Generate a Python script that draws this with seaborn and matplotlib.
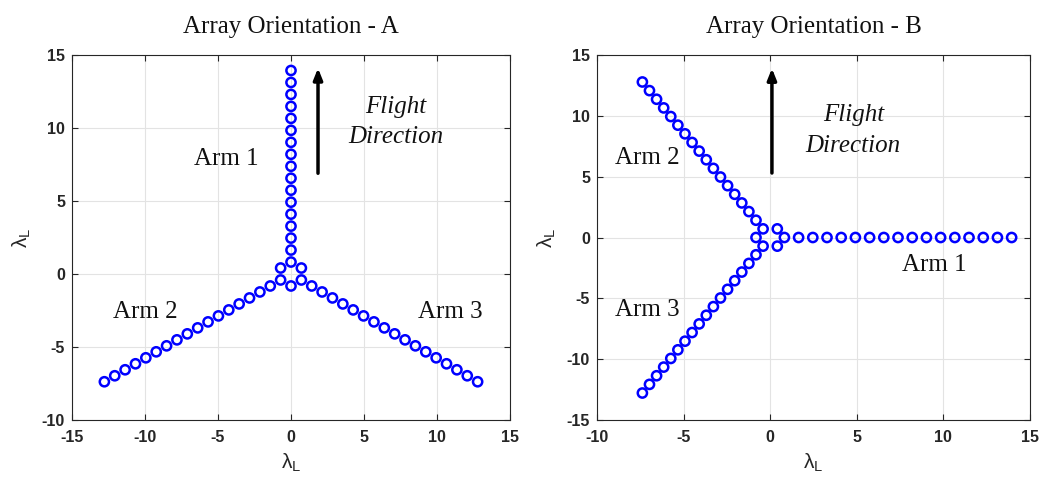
import numpy as np
import pandas as pd
import matplotlib
matplotlib.use("Agg")
import matplotlib.pyplot as plt
import seaborn as sns

# ---- data (polar description of the Y-array) ----
arm1_r = [0.82, 1.64, 2.46, 3.28, 4.10, 4.92, 5.74, 6.56, 7.38, 8.20,
          9.02, 9.84, 10.66, 11.48, 12.30, 13.12, 13.94]
arm23_r = [0.82, 1.64, 2.46, 3.28, 4.10, 4.92, 5.74, 6.56, 7.38, 8.20,
           9.02, 9.84, 10.66, 11.48, 12.30, 13.12, 13.94, 14.76]
hub_r = [0.82, 0.82, 0.82]
# arm directions (degrees) per orientation
angles_A = {"Arm 1": 90, "Arm 2": 210, "Arm 3": 330}
hub_A = [270, 30, 150]
angles_B = {"Arm 1": 0, "Arm 2": 120, "Arm 3": 240}
hub_B = [180, 300, 60]

titles = ["Array Orientation - A", "Array Orientation - B"]
xlims = [(-15, 15), (-10, 15)]
ylims = [(-10, 15), (-15, 15)]
xticks = [[-15, -10, -5, 0, 5, 10, 15], [-10, -5, 0, 5, 10, 15]]
yticks = [[-10, -5, 0, 5, 10, 15], [-15, -10, -5, 0, 5, 10, 15]]

labels_A = [("Arm 1", -4.4, 7.9), ("Arm 2", -10.0, -2.6), ("Arm 3", 10.9, -2.6)]
labels_B = [("Arm 2", -7.1, 6.5), ("Arm 3", -7.1, -6.0), ("Arm 1", 9.5, -2.3)]
flight_A = (7.2, 10.4)
flight_B = (4.8, 8.8)
arrow_A = ((1.85, 6.9), (1.85, 14.1))
arrow_B = ((0.1, 5.3), (0.1, 13.9))


def build(angles, hub):
    rows = []
    for arm, ang in angles.items():
        rr = arm1_r if arm == "Arm 1" else arm23_r
        for r in rr:
            rows.append((r * np.cos(np.radians(ang)), r * np.sin(np.radians(ang)), arm))
    for r, ang in zip(hub_r, hub):
        rows.append((r * np.cos(np.radians(ang)), r * np.sin(np.radians(ang)), "hub"))
    return pd.DataFrame(rows, columns=["x", "y", "arm"])


dfs = [build(angles_A, hub_A), build(angles_B, hub_B)]
labels = [labels_A, labels_B]
flights = [flight_A, flight_B]
arrows = [arrow_A, arrow_B]

sns.set_theme(style="whitegrid")
plt.rcParams["font.family"] = ["Liberation Sans", "DejaVu Sans"]
plt.rcParams["axes.unicode_minus"] = False

fig = plt.figure(figsize=(10.46, 4.79), dpi=100)
positions = [[72 / 1046, 59 / 479, 438 / 1046, 365 / 479],
             [597 / 1046, 59 / 479, 433 / 1046, 365 / 479]]

lam = r"$\mathregular{λ_L}$"

for i in range(2):
    ax = fig.add_axes(positions[i])
    ax.set_facecolor("white")
    sns.scatterplot(data=dfs[i], x="x", y="y", ax=ax, marker="o", s=44,
                    facecolors="none", edgecolor="#0000ff", linewidth=1.8,
                    legend=False, zorder=3)
    ax.set_xlim(*xlims[i])
    ax.set_ylim(*ylims[i])
    ax.set_xticks(xticks[i])
    ax.set_yticks(yticks[i])
    ax.grid(True, color="#e3e3e3", linewidth=0.8)
    for sp in ax.spines.values():
        sp.set_color("#262626")
        sp.set_linewidth(0.8)
        sp.set_visible(True)
    ax.tick_params(direction="in", length=4, width=0.8, color="#262626",
                   top=True, right=True, bottom=True, left=True,
                   labelsize=11.5)
    ax.tick_params(axis="x", pad=7)
    ax.tick_params(axis="y", pad=5)
    for lab in ax.get_xticklabels() + ax.get_yticklabels():
        lab.set_fontweight("bold")
        lab.set_color("#262626")
    ax.set_xlabel(lam, fontsize=15, color="#262626", labelpad=5)
    ax.set_ylabel(lam, fontsize=15, color="#262626", labelpad=6)
    ax.set_title(titles[i], family=["Liberation Serif"], fontsize=18, pad=16,
                 color="#111111")
    for txt, tx, ty in labels[i]:
        ax.text(tx, ty, txt, family=["Liberation Serif"], fontsize=18,
                ha="center", va="center", color="#111111", zorder=4)
    fx, fy = flights[i]
    ax.text(fx, fy, "Flight\nDirection", family=["Liberation Serif"],
            style="italic", fontsize=18, ha="center", va="center",
            linespacing=1.5, color="#111111", zorder=4)
    (x0, y0), (x1, y1) = arrows[i]
    ax.annotate("", xy=(x1, y1), xytext=(x0, y0),
                arrowprops=dict(arrowstyle="-|>,head_length=0.55,head_width=0.22",
                                color="black", lw=2.5, shrinkA=0, shrinkB=0),
                zorder=4)

fig.savefig("out.png", dpi=100)
